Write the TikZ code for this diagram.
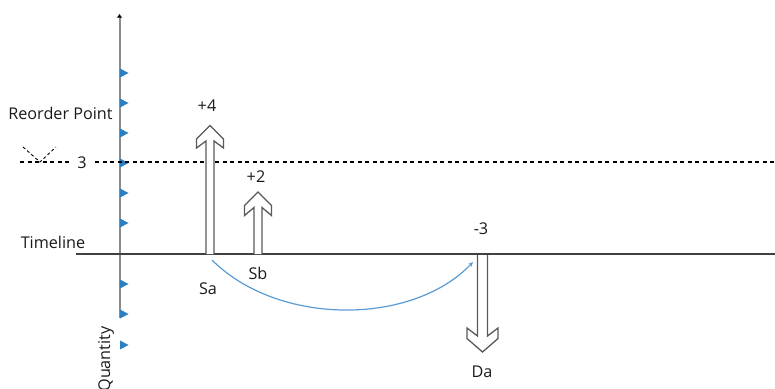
\documentclass[tikz,border=0pt]{standalone}
\usepackage{fontspec}
\setmainfont{Open Sans}
\usetikzlibrary{arrows.meta}
\definecolor{txt}{HTML}{1A1A1A}
\definecolor{axgray}{HTML}{8C8C8C}
\definecolor{tlgray}{HTML}{404040}
\definecolor{arrgray}{HTML}{595959}
\definecolor{triblue}{HTML}{2B7FC0}
\definecolor{curveblue}{HTML}{5B9BD5}
\tikzset{
  lbl/.style={inner sep=0pt, text=txt, font=\fontsize{16.2}{19}\selectfont},
  blockarrow/.style={draw=arrgray, fill=white, line width=1.3pt, line join=miter},
  tick/.style={fill=triblue, draw=none},
}
\begin{document}
\begin{tikzpicture}[x=1pt,y=-1pt]
\useasboundingbox (0,0) rectangle (775,388);
% axes
\coordinate (axB) at (119.5,318);
\coordinate (axT) at (119.5,14);
\coordinate (tlL) at (76,254);
\coordinate (tlR) at (775,254);
\draw[axgray, line width=2pt, arrows={-{Latex[length=3.5pt,width=5.5pt,color=black]}}] (axB) -- (axT);
\draw[tlgray, line width=2pt] (tlL) -- (tlR);
% ticks
\foreach \ty in {73,103,133,163,193,223,284,314,345}{
  \path[tick] (120,\ty-4.5) -- (128.5,\ty) -- (120,\ty+4.5) -- cycle;
}
% reorder point dashed line
\coordinate (dL) at (20,162);
\coordinate (dR) at (775,162);
\draw[black, line width=1.1pt, dash pattern=on 4pt off 3.5pt] (dL) -- (dR);
\node[lbl, fill=white, inner xsep=7pt, inner ysep=1pt] (three) at (82,163) {3};
\draw[black, line width=0.9pt, dash pattern=on 3pt off 2.5pt] (23,147) -- (40,162) -- (56,147);
% labels
\node[lbl] (reorder) at (60.5,113) {Reorder Point};
\node[lbl] (timeline) at (53,242) {Timeline};
\node[lbl, rotate=90] (qty) at (106,359) {Quantity};
% +4 arrow (Sa)
\path[blockarrow] (206,254) -- (206,141) -- (196.5,148) -- (196.5,139) -- (210,125.5)
  -- (223.5,139) -- (223.5,148) -- (214,141) -- (214,254);
\node[lbl] (p4) at (207,106) {+4};
\node[lbl] (sa) at (208,289) {Sa};
% +2 arrow (Sb)
\path[blockarrow] (254,254) -- (254,207.5) -- (244.5,215.5) -- (244.5,205.5) -- (258,192)
  -- (271.5,205.5) -- (271.5,215.5) -- (262,207.5) -- (262,254);
\node[lbl] (p2) at (256,177) {+2};
\node[lbl] (sb) at (258,273) {Sb};
% -3 arrow (Da)
\path[blockarrow] (477.5,255) -- (477.5,336) -- (467,328) -- (467,338.5) -- (482.5,352)
  -- (498,338.5) -- (498,328) -- (487.5,336) -- (487.5,255);
\node[lbl] (m3) at (481,229) {-3};
\node[lbl] (da) at (482,372) {Da};
% blue curve
\coordinate (cS) at (212,260);
\coordinate (cE) at (473,262);
\draw[curveblue, line width=1.2pt, -{Stealth[length=5pt,width=4.5pt]}] (cS) .. controls (278,326) and (412,326) .. (cE);
\end{tikzpicture}
\end{document}
